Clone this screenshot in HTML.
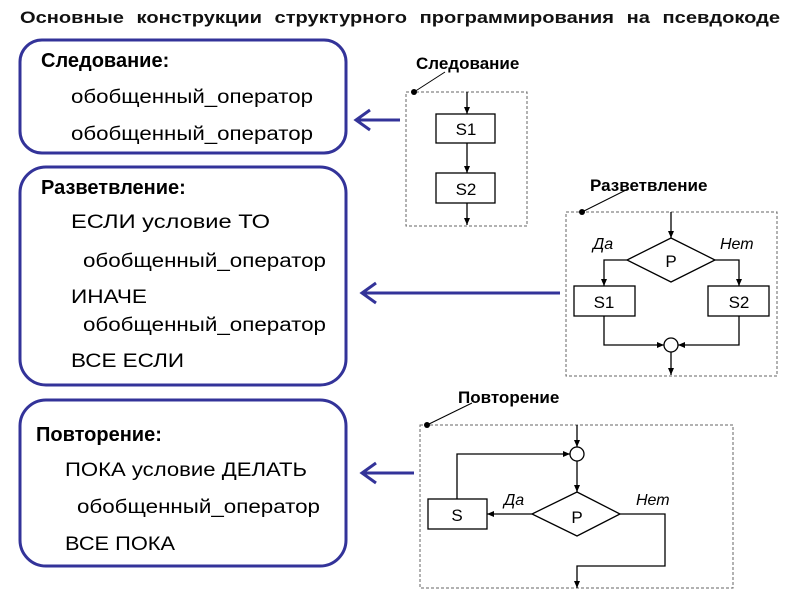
<!DOCTYPE html>
<html><head><meta charset="utf-8"><style>
html,body{margin:0;padding:0;background:#fff;width:800px;height:600px;overflow:hidden}
svg{display:block;font-family:"Liberation Sans",Arial,sans-serif}
</style></head><body>
<svg width="800" height="600" viewBox="0 0 800 600" xmlns="http://www.w3.org/2000/svg">
<defs>
<marker id="a" markerWidth="8" markerHeight="8" refX="7" refY="4" orient="auto" markerUnits="userSpaceOnUse">
<path d="M0,1 L7,4 L0,7 z" fill="#000"/></marker>
</defs>
<text x="20" y="23" font-size="17" font-weight="bold" word-spacing="6" textLength="760" lengthAdjust="spacingAndGlyphs" fill="#111">Основные конструкции структурного программирования на псевдокоде</text>

<g fill="none" stroke="#333399" stroke-width="3">
<rect x="20" y="40" width="326" height="113" rx="22"/>
<rect x="20" y="167" width="326" height="218" rx="26"/>
<rect x="20" y="400" width="326" height="166" rx="26"/>
<path d="M356,120 H400 M370,110 L356,120 L370,130"/>
<path d="M362,293 H560 M376,283 L362,293 L376,303"/>
<path d="M362,473 H414 M376,463 L362,473 L376,483"/>
</g>

<g font-size="19" fill="#000">
<text x="41" y="67" font-weight="bold" font-size="20">Следование:</text>
<text x="71" y="103" textLength="242" lengthAdjust="spacingAndGlyphs">обобщенный_оператор</text>
<text x="71" y="140" textLength="242" lengthAdjust="spacingAndGlyphs">обобщенный_оператор</text>
<text x="41" y="194" font-weight="bold" font-size="20">Разветвление:</text>
<text x="71" y="228" font-size="19" textLength="199" lengthAdjust="spacingAndGlyphs">ЕСЛИ  условие  ТО</text>
<text x="83" y="267" textLength="243" lengthAdjust="spacingAndGlyphs">обобщенный_оператор</text>
<text x="71" y="303" textLength="76" lengthAdjust="spacingAndGlyphs">ИНАЧЕ</text>
<text x="83" y="331" textLength="243" lengthAdjust="spacingAndGlyphs">обобщенный_оператор</text>
<text x="71" y="367" textLength="113" lengthAdjust="spacingAndGlyphs">ВСЕ ЕСЛИ</text>
<text x="36" y="441" font-weight="bold" font-size="20">Повторение:</text>
<text x="65" y="476" textLength="242" lengthAdjust="spacingAndGlyphs">ПОКА условие ДЕЛАТЬ</text>
<text x="77" y="513" textLength="243" lengthAdjust="spacingAndGlyphs">обобщенный_оператор</text>
<text x="65" y="550" textLength="110" lengthAdjust="spacingAndGlyphs">ВСЕ ПОКА</text>
</g>

<g font-size="17" font-weight="bold" fill="#000">
<text x="416" y="69">Следование</text>
<text x="590" y="191">Разветвление</text>
<text x="458" y="403">Повторение</text>
</g>

<g fill="none" stroke="#666" stroke-width="1" stroke-dasharray="3,2">
<rect x="406" y="92" width="121" height="134"/>
<rect x="566" y="212" width="211" height="164"/>
<rect x="420" y="425" width="313" height="163"/>
</g>
<g stroke="#000" stroke-width="1" fill="none">
<line x1="414" y1="92" x2="445" y2="72"/>
<line x1="582" y1="212" x2="628" y2="189"/>
<line x1="427" y1="425" x2="472" y2="403"/>
</g>
<g fill="#000"><circle cx="414" cy="92" r="3"/><circle cx="582" cy="212" r="3"/><circle cx="427" cy="425" r="3"/></g>

<g stroke="#000" stroke-width="1.3" fill="#fff">
<line x1="467" y1="92" x2="467" y2="114" marker-end="url(#a)"/>
<rect x="436" y="114" width="59" height="29"/>
<line x1="467" y1="143" x2="467" y2="173" marker-end="url(#a)"/>
<rect x="436" y="173" width="59" height="30"/>
<line x1="467" y1="203" x2="467" y2="225" marker-end="url(#a)"/>
<line x1="671" y1="212" x2="671" y2="238" marker-end="url(#a)"/>
<polygon points="671,238 715,260 671,282 627,260"/>
<polyline fill="none" points="627,260 604,260 604,286" marker-end="url(#a)"/>
<polyline fill="none" points="715,260 739,260 739,286" marker-end="url(#a)"/>
<rect x="574" y="286" width="61" height="30"/>
<rect x="708" y="286" width="61" height="30"/>
<polyline fill="none" points="604,316 604,345 664,345" marker-end="url(#a)"/>
<polyline fill="none" points="739,316 739,345 678,345" marker-end="url(#a)"/>
<circle cx="671" cy="345" r="7"/>
<line x1="671" y1="352" x2="671" y2="375" marker-end="url(#a)"/>
<line x1="577" y1="425" x2="577" y2="447" marker-end="url(#a)"/>
<circle cx="577" cy="454" r="7"/>
<line x1="577" y1="461" x2="577" y2="492" marker-end="url(#a)"/>
<polygon points="577,492 620,514 577,536 532,514"/>
<line x1="532" y1="514" x2="487" y2="514" marker-end="url(#a)"/>
<rect x="428" y="499" width="59" height="30"/>
<polyline fill="none" points="457,499 457,454 570,454" marker-end="url(#a)"/>
<polyline fill="none" points="620,514 665,514 665,566 577,566 577,588" marker-end="url(#a)"/>
</g>

<g font-size="17" fill="#000" text-anchor="middle">
<text x="466" y="135">S1</text>
<text x="466" y="195">S2</text>
<text x="671" y="267">P</text>
<text x="604" y="308">S1</text>
<text x="739" y="308">S2</text>
<text x="577" y="523">P</text>
<text x="457" y="521">S</text>
</g>
<g font-size="16" font-style="italic" fill="#000">
<text x="593" y="249">Да</text>
<text x="720" y="249">Нет</text>
<text x="504" y="505">Да</text>
<text x="636" y="505">Нет</text>
</g>
</svg>
</body></html>
